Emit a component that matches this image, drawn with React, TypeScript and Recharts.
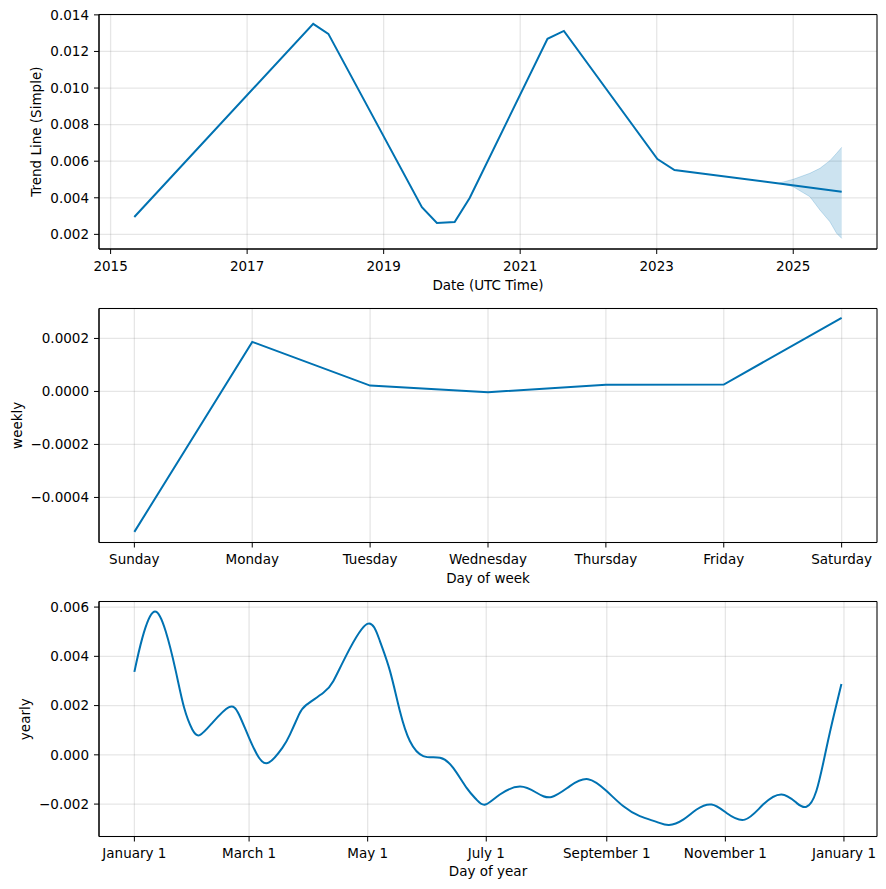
import React from "react";
import { ComposedChart, Line, Area, XAxis, YAxis, CartesianGrid, ReferenceArea } from "recharts";

const FONT = "'DejaVu Sans', sans-serif";
const BLUE = "#0072B2";
const FS = 13.5;

// ---- Panel 1: trend ----
const trendYears = [2015.347, 2017.968, 2018.19, 2019.56, 2019.78, 2020.04, 2020.26, 2021.4, 2021.64, 2023.01, 2023.26, 2024.85, 2025.71];
const trendValues = [0.00295, 0.01351, 0.01296, 0.00349, 0.00262, 0.00267, 0.00399, 0.01269, 0.01312, 0.00612, 0.00552, 0.00475, 0.00433];
const bandYears = [2024.8, 2025.0, 2025.244, 2025.391, 2025.537, 2025.635, 2025.71];
const bandLower = [0.00481, 0.0046, 0.00406, 0.00333, 0.00269, 0.00206, 0.00178];
const bandUpper = [0.00481, 0.00501, 0.00534, 0.00561, 0.00603, 0.00643, 0.00676];
const trendXTicks = [2015, 2017, 2019, 2021, 2023, 2025];
const trendYTicks = [0.002, 0.004, 0.006, 0.008, 0.01, 0.012, 0.014];

// ---- Panel 2: weekly ----
const weekDays = ["Sunday", "Monday", "Tuesday", "Wednesday", "Thursday", "Friday", "Saturday"];
const weeklyValues = [-0.00053, 0.000187, 0.000022, -0.000003, 0.000025, 0.000026, 0.000278];
const weeklyYTicks = [-0.0004, -0.0002, 0, 0.0002];

// ---- Panel 3: yearly ----
const yearDays = [0, 4.1, 10.1, 16.1, 21.3, 25.6, 29.8, 33.6, 40.1, 48.7, 53.8, 59, 64.1, 69.3, 76.1, 80, 84.7, 88.6, 97.2, 102.3, 109.2, 119.8, 126.3, 131.5, 136.6, 141.7, 148.6, 157.2, 164, 170.9, 176, 180.5, 188, 198.3, 206.9, 214.6, 224, 233.4, 242.9, 251.4, 260, 268.6, 275, 282.3, 289.2, 296.9, 304.6, 314, 323.4, 332.9, 340.6, 345.7, 350.8, 356, 360.3, 363.7];
const yearlyValues = [0.00337, 0.00475, 0.00581, 0.00502, 0.0034, 0.00191, 0.00103, 0.0008, 0.0013, 0.00194, 0.00164, 0.00069, -0.00012, -0.00031, 0.00028, 0.00082, 0.00164, 0.00204, 0.00252, 0.00299, 0.00407, 0.00532, 0.00462, 0.0034, 0.00177, 0.00056, -0.00005, -0.00012, -0.00053, -0.00134, -0.00182, -0.00202, -0.00161, -0.00129, -0.00154, -0.00171, -0.00127, -0.00099, -0.00147, -0.00208, -0.00249, -0.00272, -0.00285, -0.00263, -0.00222, -0.00202, -0.00236, -0.00263, -0.00202, -0.00161, -0.00195, -0.00211, -0.00147, 0.00028, 0.00177, 0.00288];
const yearTickDays = [0, 59, 120, 181, 243, 304, 365];
const yearTickLabels = ["January 1", "March 1", "May 1", "July 1", "September 1", "November 1", "January 1"];
const yearlyYTicks = [-0.002, 0, 0.002, 0.004, 0.006];

const trendData = trendYears.map((x, i) => ({ x, v: trendValues[i] }));
const bandData = bandYears.map((x, i) => ({ x, range: [bandLower[i], bandUpper[i]] }));
const weeklyData = weeklyValues.map((v, i) => ({ x: i, v }));
const yearlyData = yearDays.map((x, i) => ({ x, v: yearlyValues[i] }));

const fmt = (d: number) => (v: number) => {
  const s = (Math.abs(v) < 1e-12 ? 0 : v).toFixed(d);
  return s.replace("-", "\u2212");
};

const W = 886;
const M = 14.5;
const XH = 50;
const tickStyle = { fill: "#000", fontSize: FS, fontFamily: FONT };

function Panel(props: any) {
  const { plotTop, plotH, xDomain, xTicks, xFmt, yDomain, yTicks, yFmt, children } = props;
  const H = M + plotH + XH;
  return (
    <div style={{ position: "absolute", left: 0, top: plotTop - M, width: W, height: H }}>
      <ComposedChart width={W} height={H} margin={{ top: M, right: 9, bottom: 0, left: 0 }}>
        <CartesianGrid stroke="#808080" strokeOpacity={0.2} strokeWidth={1.3} />
        <XAxis
          dataKey="x"
          type="number"
          domain={xDomain}
          ticks={xTicks}
          tickFormatter={xFmt}
          allowDataOverflow
          interval={0}
          height={XH}
          tickSize={5}
          tickMargin={7}
          tick={tickStyle}
          tickLine={{ stroke: "#000" }}
          axisLine={{ stroke: "#000" }}
        />
        <YAxis
          type="number"
          domain={yDomain}
          ticks={yTicks}
          tickFormatter={yFmt}
          allowDataOverflow
          interval={0}
          width={99}
          tickSize={5}
          tickMargin={5}
          tick={tickStyle}
          tickLine={{ stroke: "#000" }}
          axisLine={{ stroke: "#000" }}
        />
        {children}
        <ReferenceArea
          x1={xDomain[0]}
          x2={xDomain[1]}
          y1={yDomain[0]}
          y2={yDomain[1]}
          ifOverflow="visible"
          fill="none"
          fillOpacity={0}
          stroke="#000"
          strokeWidth={1}
          strokeOpacity={1}
        />
      </ComposedChart>
    </div>
  );
}

export default function App() {
  const textStyle: any = { fontFamily: FONT, fontSize: FS, fill: "#000" };
  return (
    <div style={{ position: "absolute", left: 0, top: 0, width: W, height: 889, background: "#fff" }}>
      <Panel
        plotTop={14.5}
        plotH={234.5}
        xDomain={[2014.83, 2026.227]}
        xTicks={trendXTicks}
        xFmt={(v: number) => String(v)}
        yDomain={[0.0012, 0.01402]}
        yTicks={trendYTicks}
        yFmt={fmt(3)}
      >
        <Area data={bandData} dataKey="range" type="linear" stroke={BLUE} strokeOpacity={0.2} fill={BLUE} fillOpacity={0.2} isAnimationActive={false} />
        <Line data={trendData} dataKey="v" type="linear" stroke={BLUE} strokeWidth={2} dot={false} activeDot={false} isAnimationActive={false} />
      </Panel>
      <Panel
        plotTop={308.3}
        plotH={234}
        xDomain={[-0.3, 6.3]}
        xTicks={[0, 1, 2, 3, 4, 5, 6]}
        xFmt={(v: number) => weekDays[v] ?? ""}
        yDomain={[-0.00057, 0.000313]}
        yTicks={weeklyYTicks}
        yFmt={fmt(4)}
      >
        <Line data={weeklyData} dataKey="v" type="linear" stroke={BLUE} strokeWidth={2} dot={false} activeDot={false} isAnimationActive={false} />
      </Panel>
      <Panel
        plotTop={601.7}
        plotH={235}
        xDomain={[-18.2, 382]}
        xTicks={yearTickDays}
        xFmt={(v: number) => yearTickLabels[yearTickDays.indexOf(v)] ?? ""}
        yDomain={[-0.003316, 0.006227]}
        yTicks={yearlyYTicks}
        yFmt={fmt(3)}
      >
        <Line data={yearlyData} dataKey="v" type="natural" stroke={BLUE} strokeWidth={2} dot={false} activeDot={false} isAnimationActive={false} />
      </Panel>
      <svg width={W} height={889} style={{ position: "absolute", left: 0, top: 0, pointerEvents: "none" }}>
        <text x={488} y={285} textAnchor="middle" dominantBaseline="central" style={textStyle}>Date (UTC Time)</text>
        <text x={488} y={578} textAnchor="middle" dominantBaseline="central" style={textStyle}>Day of week</text>
        <text x={488} y={871} textAnchor="middle" dominantBaseline="central" style={textStyle}>Day of year</text>
        <text x={36} y={131.7} textAnchor="middle" dominantBaseline="central" transform="rotate(-90 36 131.7)" style={textStyle}>Trend Line (Simple)</text>
        <text x={17.3} y={425.3} textAnchor="middle" dominantBaseline="central" transform="rotate(-90 17.3 425.3)" style={textStyle}>weekly</text>
        <text x={25} y={719.2} textAnchor="middle" dominantBaseline="central" transform="rotate(-90 25 719.2)" style={textStyle}>yearly</text>
      </svg>
    </div>
  );
}
